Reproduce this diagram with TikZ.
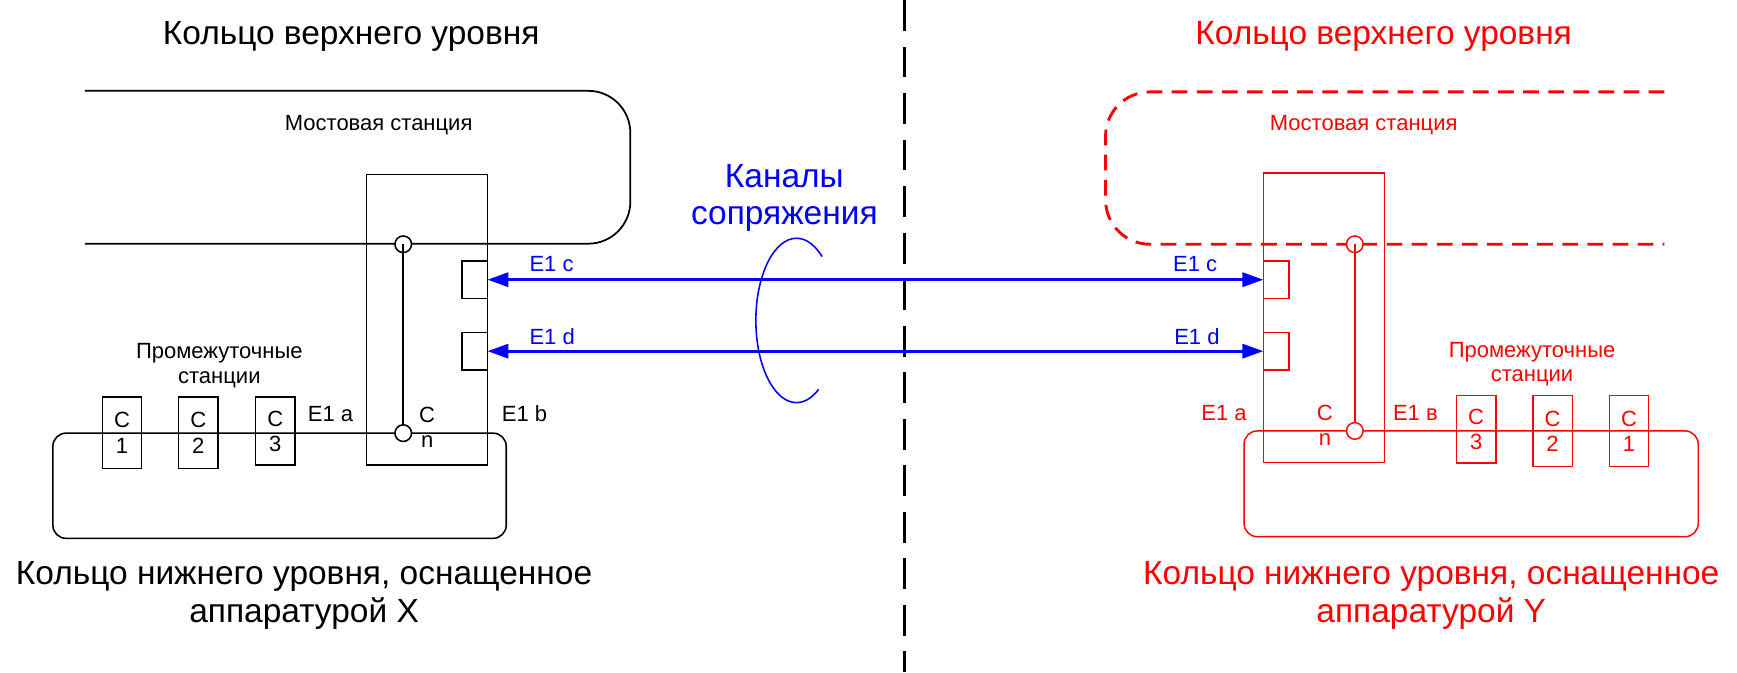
\documentclass[tikz,border=0pt]{standalone}
\usepackage{fontspec}
\setmainfont{Liberation Sans}
\usetikzlibrary{arrows.meta}
\tikzset{
  smalltxt/.style={font=\fontsize{11.3}{12.9}\selectfont, inner sep=0pt, outer sep=0pt},
  bigtxt/.style={font=\fontsize{17.2}{19.2}\selectfont, inner sep=0pt, outer sep=0pt},
  thinline/.style={line width=0.8pt},
  loopline/.style={line width=0.9pt},
  redthin/.style={draw=red, line width=0.75pt},
  reddash/.style={draw=red, line width=1.5pt, dash pattern=on 8.1pt off 4.8pt},
  divider/.style={draw=black, line width=1.4pt, dash pattern=on 15.9pt off 8pt},
  bridgebox/.style={draw, inner sep=0pt, outer sep=0pt, minimum width=2.18cm},
  portbox/.style={draw, inner sep=0pt, outer sep=0pt, minimum width=0.46cm, minimum height=0.68cm},
  stnbox/.style={draw, inner sep=0pt, outer sep=0pt, minimum width=0.71cm, align=center,
    font=\fontsize{11.3}{12.9}\selectfont},
  junction/.style={circle, draw, fill=white, inner sep=0pt, outer sep=0pt, minimum size=0.3cm},
  link/.style={draw=blue, fill=blue, line width=1.7pt,
    {Triangle[length=10.8pt,width=7.2pt]}-{Triangle[length=10.8pt,width=7.2pt]}},
  ellipseline/.style={draw=blue, line width=0.8pt}
}
\begin{document}
\begin{tikzpicture}[x=0.02cm, y=-0.02cm]
\useasboundingbox (0,0) rectangle (1568,607);

% ---------- divider ----------
\draw[divider] (816.5,0) -- (816.5,607);

% ---------- titles ----------
\node[bigtxt, anchor=base] (titleL) at (317,40.6) {Кольцо верхнего уровня};
\node[bigtxt, anchor=base, text=red] (titleR) at (1249,40.6) {Кольцо верхнего уровня};

% ---------- left side (black) ----------
\draw[loopline, rounded corners=0.76cm] (76.6,82) -- (569,82) -- (569,220) -- (76.6,220);
\node[smalltxt, anchor=base] (bridgeLtxt) at (341.8,117.4) {Мостовая станция};
\draw[thinline, rounded corners=0.24cm] (47.7,391) rectangle (457,486);

\node[bridgebox, thinline, minimum height=5.248cm] (bridgeL) at (385.5,288.6) {};
\node[portbox, thinline] (pcL) at (428.5,252.5) {};
\node[portbox, thinline] (pdL) at (428.5,317) {};

\node[stnbox, thinline, minimum height=1.29cm] (s1L) at (110.1,390.75) {C\\1};
\node[stnbox, thinline, minimum height=1.29cm] (s2L) at (179,390.75) {C\\2};
\node[stnbox, thinline, minimum height=1.23cm] (s3L) at (248.5,389.25) {C\\3};

\node[junction, thinline] (cuL) at (364,220.5) {};
\node[junction, thinline] (clL) at (364,391) {};
\draw[thinline] (cuL.center) -- (clL.north);

\node[smalltxt, anchor=base] (interL1) at (198,324) {Промежуточные};
\node[smalltxt, anchor=base] (interL2) at (198,346) {станции};
\node[smalltxt, anchor=base west] (e1aL) at (278,380.6) {E1 a};
\node[smalltxt, anchor=base] (cnL1) at (385.6,381.5) {C};
\node[smalltxt, anchor=base] (cnL2) at (385.6,403.8) {n};
\node[smalltxt, anchor=base west] (e1bL) at (453,380.6) {E1 b};

\node[bigtxt, anchor=base] (bottomL1) at (274.5,528) {Кольцо нижнего уровня, оснащенное};
\node[bigtxt, anchor=base] (bottomL2) at (274.5,561.8) {аппаратурой X};

% ---------- right side (red) ----------
\draw[reddash, rounded corners=0.8cm] (1502.5,83) -- (998,83) -- (998,220.5) -- (1502.5,220.5);
\node[smalltxt, anchor=base, text=red] (bridgeRtxt) at (1231,117.4) {Мостовая станция};
\draw[redthin, rounded corners=0.24cm] (1123,389) rectangle (1533,484.5);

\node[bridgebox, redthin, minimum height=5.232cm] (bridgeR) at (1195.25,286.8) {};
\node[portbox, redthin] (pcR) at (1152,252.5) {};
\node[portbox, redthin] (pdR) at (1152,317) {};

\node[stnbox, redthin, text=red, minimum height=1.22cm] (s3R) at (1332.5,387.5) {C\\3};
\node[stnbox, redthin, text=red, minimum height=1.28cm] (s2R) at (1401.5,389) {C\\2};
\node[stnbox, redthin, text=red, minimum height=1.28cm] (s1R) at (1470.5,389) {C\\1};

\node[junction, redthin] (cuR) at (1223,220.5) {};
\node[junction, redthin] (clR) at (1223,389) {};
\draw[redthin] (cuR.center) -- (clR.north);

\node[smalltxt, anchor=base, text=red] (interR1) at (1383,322.6) {Промежуточные};
\node[smalltxt, anchor=base, text=red] (interR2) at (1383,344.5) {станции};
\node[smalltxt, anchor=base west, text=red] (e1aR) at (1084.5,379.7) {E1 a};
\node[smalltxt, anchor=base, text=red] (cnR1) at (1196,379.7) {C};
\node[smalltxt, anchor=base, text=red] (cnR2) at (1196,402.3) {n};
\node[smalltxt, anchor=base west, text=red] (e1vR) at (1257.5,379.7) {E1 в};

\node[bigtxt, anchor=base, text=red] (bottomR1) at (1292,528) {Кольцо нижнего уровня, оснащенное};
\node[bigtxt, anchor=base, text=red] (bottomR2) at (1292,561.8) {аппаратурой Y};

% ---------- interface channels (blue) ----------
\draw[link] (pcL.east) -- (pcR.west);
\draw[link] (pdL.east) -- (pdR.west);
\node[smalltxt, anchor=base west, text=blue] (e1cL) at (478,245) {E1 c};
\node[smalltxt, anchor=base west, text=blue] (e1dL) at (478,311.4) {E1 d};
\node[smalltxt, anchor=base west, text=blue] (e1cR) at (1059,245) {E1 c};
\node[smalltxt, anchor=base west, text=blue] (e1dR) at (1060,311.4) {E1 d};

\node[bigtxt, anchor=base, text=blue] (kan1) at (708,169) {Каналы};
\node[bigtxt, anchor=base, text=blue] (kan2) at (708,203) {сопряжения};
\draw[ellipseline] (742.1,231.6) arc[start angle=51, end angle=303, x radius=0.734cm, y radius=1.484cm];
\end{tikzpicture}
\end{document}
